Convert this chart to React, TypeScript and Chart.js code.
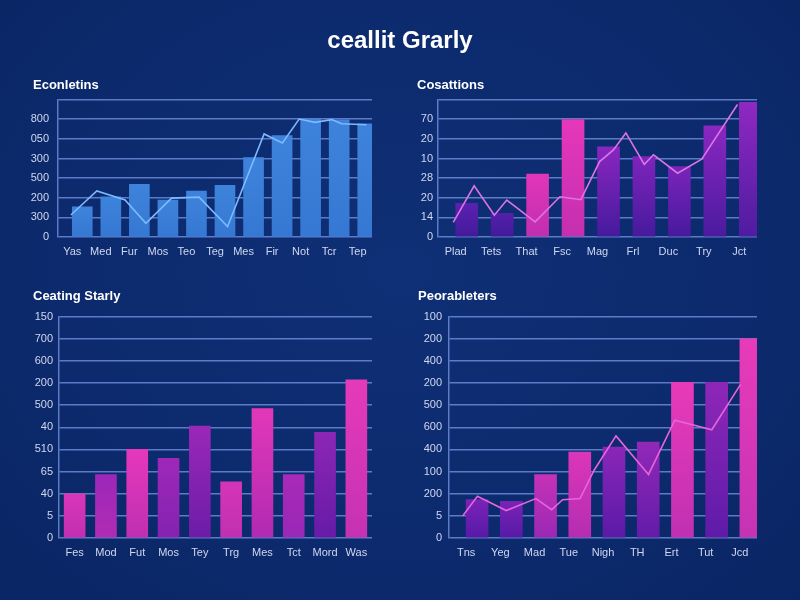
import { useEffect, useRef } from "react";
import { Chart, registerables } from "chart.js";

Chart.register(...registerables);

// ---- Econletins ----
const econCategories = ["Yas", "Med", "Fur", "Mos", "Teo", "Teg", "Mes", "Fir", "Not", "Tcr", "Tep"];
const econTicks = ["0", "300", "200", "500", "300", "050", "800", ""];
const econBars = [1.54, 2.05, 2.68, 1.88, 2.34, 2.63, 4.04, 5.17, 6.0, 5.97, 5.76];
const econLineX = [-0.05, 0.86, 1.85, 2.58, 3.48, 4.44, 5.44, 6.72, 7.36, 7.95, 8.5, 9.09, 9.44, 10.31];
const econLineY = [1.12, 2.35, 1.89, 0.7, 1.98, 2.03, 0.53, 5.25, 4.79, 6.01, 5.84, 5.98, 5.77, 5.72];

// ---- Cosattions ----
const cosCategories = ["Plad", "Tets", "That", "Fsc", "Mag", "Frl", "Duc", "Try", "Jct"];
const cosTicks = ["0", "14", "20", "28", "10", "20", "70", ""];
const cosBars = [1.71, 1.2, 3.21, 5.98, 4.6, 4.1, 3.59, 5.67, 6.86];
const cosLineX = [-0.07, 0.52, 1.09, 1.44, 1.81, 2.24, 2.94, 3.53, 4.06, 4.45, 4.8, 5.32, 5.58, 6.26, 6.94, 7.95];
const cosLineY = [0.74, 2.61, 1.11, 1.88, 1.37, 0.77, 2.05, 1.9, 3.84, 4.44, 5.3, 3.7, 4.19, 3.25, 3.96, 6.75];

// ---- Ceating Starly ----
const ceatCategories = ["Fes", "Mod", "Fut", "Mos", "Tey", "Trg", "Mes", "Tct", "Mord", "Was"];
const ceatTicks = ["0", "5", "40", "65", "510", "40", "500", "200", "600", "700", "150"];
const ceatBars = [2.0, 2.87, 4.0, 3.6, 5.05, 2.54, 5.84, 2.87, 4.77, 7.14];

// ---- Peorableters ----
const peoCategories = ["Tns", "Yeg", "Mad", "Tue", "Nigh", "TH", "Ert", "Tut", "Jcd"];
const peoTicks = ["0", "5", "200", "100", "400", "600", "500", "200", "400", "200", "100"];
const peoBars = [1.73, 1.66, 2.87, 3.88, 4.11, 4.33, 7.03, 7.03, 9.0];
const peoLineX = [-0.1, 0.33, 1.17, 2.04, 2.5, 2.82, 3.33, 3.74, 4.38, 5.33, 6.1, 7.18, 8.02];
const peoLineY = [0.99, 1.88, 1.24, 1.78, 1.28, 1.73, 1.78, 3.06, 4.61, 2.87, 5.32, 4.89, 6.94];

// bar fills: [bottom, top]
const blueFill: [string, string][] = econBars.map(() => ["#3578d3", "#3e83db"]);
const cosFill: [string, string][] = [
  ["#431a9a", "#5a21b0"],
  ["#411a98", "#5420aa"],
  ["#c02eb0", "#e236b8"],
  ["#c42fb0", "#e637ba"],
  ["#451a9c", "#8a26c0"],
  ["#461a9c", "#7e24bc"],
  ["#461a9c", "#7a24ba"],
  ["#4a1b9e", "#8a27c0"],
  ["#4e1ca0", "#8f28c2"],
];
const ceatFill: [string, string][] = [
  ["#c22fb2", "#d936b8"],
  ["#b02cb4", "#9c27b8"],
  ["#bf2fb2", "#e638bb"],
  ["#8422b0", "#9e28b8"],
  ["#6c1ca8", "#9a28b8"],
  ["#c030b2", "#d535b6"],
  ["#b02ab2", "#e238b8"],
  ["#9a27b6", "#a82ab8"],
  ["#661ba6", "#8c26b6"],
  ["#c432b3", "#e53ab9"],
];
const peoFill: [string, string][] = [
  ["#561aa6", "#7a22b6"],
  ["#561aa6", "#7a22b6"],
  ["#9a28b5", "#c632b7"],
  ["#b42db2", "#dc36b9"],
  ["#5a1aa6", "#8a26b8"],
  ["#621ca8", "#9228b8"],
  ["#c030b2", "#e83ab9"],
  ["#5e1ba8", "#8e27b8"],
  ["#c433b4", "#e83bb9"],
];

const GRID = "rgba(120, 150, 228, 0.75)";
const TICK = "#d0d7f0";
const FONT = "'Liberation Sans', Arial, sans-serif";

type PanelProps = {
  title: string;
  categories: string[];
  ticks: string[];
  bars: number[];
  fills: [string, string][];
  lineX?: number[];
  lineY?: number[];
  lineColor?: string;
  left: number;
  top: number;
  width: number;
  height: number;
  yAxisW: number;
  xAxisH: number;
  padRight: number;
  yPad: number;
  barW: number;
  titleLeft: number;
  titleTop: number;
};

function Panel(p: PanelProps) {
  const ref = useRef<HTMLCanvasElement | null>(null);

  useEffect(() => {
    if (!ref.current) return;
    const n = p.categories.length;
    const datasets: any[] = [];
    if (p.lineX && p.lineY) {
      datasets.push({
        type: "line",
        xAxisID: "x2",
        data: p.lineX.map((x, i) => ({ x, y: p.lineY![i] })),
        borderColor: p.lineColor,
        borderWidth: 1.6,
        pointRadius: 0,
        tension: 0,
        order: 0,
      });
    }
    datasets.push({
      type: "bar",
      data: p.bars,
      barThickness: p.barW,
      borderWidth: 0,
      order: 1,
      backgroundColor: (ctx: any) => {
        const idx = ctx.dataIndex ?? 0;
        const [bottom, top] = p.fills[idx] || p.fills[0];
        const chart = ctx.chart;
        const area = chart.chartArea;
        const y = chart.scales?.y;
        if (!area || !y || ctx.raw == null) return top;
        const yTop = y.getPixelForValue(ctx.raw);
        const yBase = y.getPixelForValue(0);
        if (!isFinite(yTop) || !isFinite(yBase) || yTop === yBase) return top;
        const g = chart.ctx.createLinearGradient(0, yBase, 0, yTop);
        g.addColorStop(0, bottom);
        g.addColorStop(1, top);
        return g;
      },
    });

    const chart = new Chart(ref.current, {
      type: "bar",
      data: { labels: p.categories, datasets },
      options: {
        responsive: false,
        maintainAspectRatio: false,
        animation: false,
        layout: { padding: { top: 0, right: p.padRight, left: 0, bottom: 0 } },
        plugins: { legend: { display: false }, tooltip: { enabled: false }, title: { display: false } },
        scales: {
          x: {
            type: "category",
            offset: true,
            grid: { display: false, drawTicks: false },
            border: { display: false },
            ticks: {
              color: TICK,
              font: { family: FONT, size: 11 },
              padding: 8,
              maxRotation: 0,
              autoSkip: false,
            },
            afterFit: (s: any) => {
              s.height = p.xAxisH;
            },
          },
          x2: {
            type: "linear",
            display: false,
            offset: false,
            bounds: "data",
            min: -0.5,
            max: n - 0.5,
            grid: { offset: false },
          },
          y: {
            min: 0,
            max: p.ticks.length - 1,
            grid: { color: GRID, lineWidth: 1.5, drawTicks: false },
            border: { display: true, color: GRID, width: 1.5 },
            ticks: {
              stepSize: 1,
              color: TICK,
              font: { family: FONT, size: 11 },
              padding: p.yPad,
              callback: (v: any) => p.ticks[Math.round(Number(v))] ?? "",
            },
            afterFit: (s: any) => {
              s.width = p.yAxisW;
            },
          },
        },
      } as any,
    });
    return () => chart.destroy();
  }, []);

  return (
    <>
      <div
        style={{
          position: "absolute",
          left: p.titleLeft,
          top: p.titleTop,
          color: "#ffffff",
          fontFamily: FONT,
          fontWeight: 700,
          fontSize: 13,
          lineHeight: "16px",
          whiteSpace: "nowrap",
        }}
      >
        {p.title}
      </div>
      <canvas
        ref={ref}
        width={p.width}
        height={p.height}
        style={{ position: "absolute", left: p.left, top: p.top, width: p.width, height: p.height, display: "block" }}
      />
    </>
  );
}

export default function App() {
  return (
    <div
      style={{
        position: "fixed",
        left: 0,
        top: 0,
        width: 800,
        height: 600,
        overflow: "hidden",
        background: "radial-gradient(ellipse at 50% 45%, #0f2f76 0%, #0c2a6d 60%, #0a2563 100%)",
      }}
    >
      <div
        style={{
          position: "absolute",
          left: 0,
          top: 26,
          width: 800,
          textAlign: "center",
          color: "#ffffff",
          fontFamily: FONT,
          fontWeight: 700,
          fontSize: 24,
          lineHeight: "28px",
        }}
      >
        ceallit Grarly
      </div>

      <Panel
        title="Econletins"
        categories={econCategories}
        ticks={econTicks}
        bars={econBars}
        fills={blueFill}
        lineX={econLineX}
        lineY={econLineY}
        lineColor="#7db9ff"
        left={0}
        top={84}
        width={390}
        height={186}
        padRight={18}
        yAxisW={58}
        xAxisH={33}
        yPad={9}
        barW={20}
        titleLeft={33}
        titleTop={77}
      />
      <Panel
        title="Cosattions"
        categories={cosCategories}
        ticks={cosTicks}
        bars={cosBars}
        fills={cosFill}
        lineX={cosLineX}
        lineY={cosLineY}
        lineColor="#dc74e6"
        left={400}
        top={88}
        width={380}
        height={182}
        padRight={23}
        yAxisW={38}
        xAxisH={33}
        yPad={5}
        barW={22}
        titleLeft={417}
        titleTop={77}
      />
      <Panel
        title="Ceating Starly"
        categories={ceatCategories}
        ticks={ceatTicks}
        bars={ceatBars}
        fills={ceatFill}
        left={0}
        top={304}
        width={390}
        height={267}
        padRight={18}
        yAxisW={59}
        xAxisH={33}
        yPad={6}
        barW={21}
        titleLeft={33}
        titleTop={288}
      />
      <Panel
        title="Peorableters"
        categories={peoCategories}
        ticks={peoTicks}
        bars={peoBars}
        fills={peoFill}
        lineX={peoLineX}
        lineY={peoLineY}
        lineColor="#e664dc"
        left={400}
        top={303}
        width={380}
        height={268}
        padRight={23}
        yAxisW={49}
        xAxisH={33}
        yPad={7}
        barW={22}
        titleLeft={418}
        titleTop={288}
      />
    </div>
  );
}
